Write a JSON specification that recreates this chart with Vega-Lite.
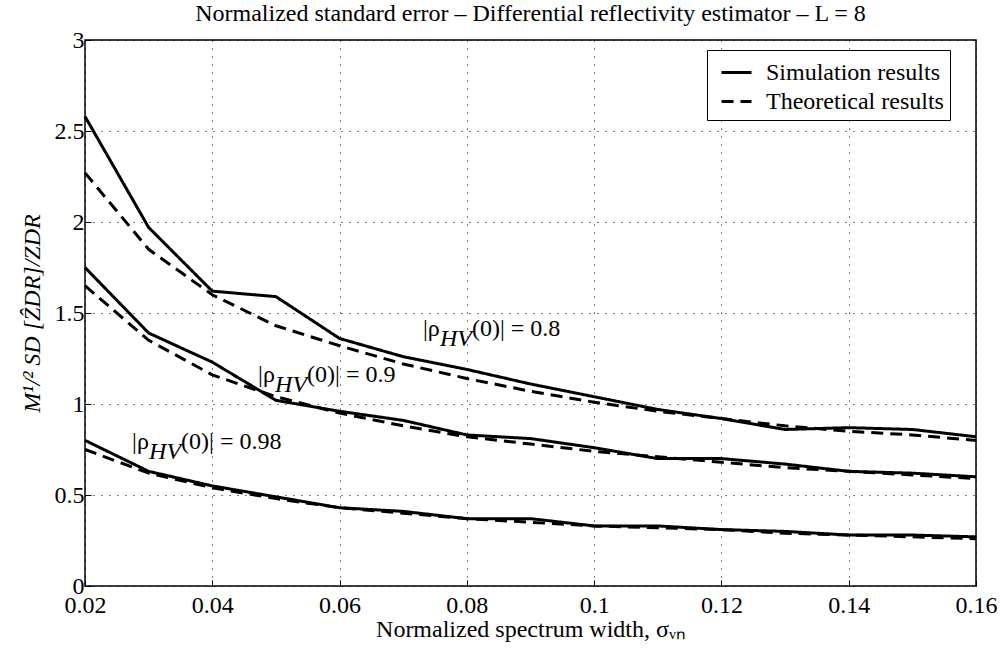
{
  "$schema": "https://vega.github.io/schema/vega-lite/v6.json",
  "width": 891,
  "height": 546,
  "autosize": {"type": "none"},
  "padding": {"left": 85, "top": 40, "right": 29, "bottom": 72},
  "background": "white",
  "config": {
    "font": "Liberation Serif",
    "view": {"stroke": "black", "strokeWidth": 1.5}
  },
  "title": {
    "text": "Normalized standard error – Differential reflectivity estimator – L = 8",
    "fontSize": 24,
    "fontWeight": "normal",
    "font": "Liberation Serif",
    "color": "black",
    "anchor": "middle",
    "frame": "group",
    "baseline": "bottom",
    "offset": 0,
    "dy": 22
  },
  "datasets": {
    "curves": [
      {"x": 0.02, "y": 2.58, "rho": "0.8", "type": "Simulation results"},
      {"x": 0.03, "y": 1.97, "rho": "0.8", "type": "Simulation results"},
      {"x": 0.04, "y": 1.62, "rho": "0.8", "type": "Simulation results"},
      {"x": 0.05, "y": 1.59, "rho": "0.8", "type": "Simulation results"},
      {"x": 0.06, "y": 1.36, "rho": "0.8", "type": "Simulation results"},
      {"x": 0.07, "y": 1.26, "rho": "0.8", "type": "Simulation results"},
      {"x": 0.08, "y": 1.19, "rho": "0.8", "type": "Simulation results"},
      {"x": 0.09, "y": 1.11, "rho": "0.8", "type": "Simulation results"},
      {"x": 0.10, "y": 1.04, "rho": "0.8", "type": "Simulation results"},
      {"x": 0.11, "y": 0.97, "rho": "0.8", "type": "Simulation results"},
      {"x": 0.12, "y": 0.92, "rho": "0.8", "type": "Simulation results"},
      {"x": 0.13, "y": 0.86, "rho": "0.8", "type": "Simulation results"},
      {"x": 0.14, "y": 0.87, "rho": "0.8", "type": "Simulation results"},
      {"x": 0.15, "y": 0.86, "rho": "0.8", "type": "Simulation results"},
      {"x": 0.16, "y": 0.82, "rho": "0.8", "type": "Simulation results"},
      {"x": 0.02, "y": 2.27, "rho": "0.8", "type": "Theoretical results"},
      {"x": 0.03, "y": 1.85, "rho": "0.8", "type": "Theoretical results"},
      {"x": 0.04, "y": 1.60, "rho": "0.8", "type": "Theoretical results"},
      {"x": 0.05, "y": 1.43, "rho": "0.8", "type": "Theoretical results"},
      {"x": 0.06, "y": 1.32, "rho": "0.8", "type": "Theoretical results"},
      {"x": 0.07, "y": 1.22, "rho": "0.8", "type": "Theoretical results"},
      {"x": 0.08, "y": 1.14, "rho": "0.8", "type": "Theoretical results"},
      {"x": 0.09, "y": 1.07, "rho": "0.8", "type": "Theoretical results"},
      {"x": 0.10, "y": 1.01, "rho": "0.8", "type": "Theoretical results"},
      {"x": 0.11, "y": 0.96, "rho": "0.8", "type": "Theoretical results"},
      {"x": 0.12, "y": 0.92, "rho": "0.8", "type": "Theoretical results"},
      {"x": 0.13, "y": 0.88, "rho": "0.8", "type": "Theoretical results"},
      {"x": 0.14, "y": 0.85, "rho": "0.8", "type": "Theoretical results"},
      {"x": 0.15, "y": 0.83, "rho": "0.8", "type": "Theoretical results"},
      {"x": 0.16, "y": 0.80, "rho": "0.8", "type": "Theoretical results"},
      {"x": 0.02, "y": 1.75, "rho": "0.9", "type": "Simulation results"},
      {"x": 0.03, "y": 1.39, "rho": "0.9", "type": "Simulation results"},
      {"x": 0.04, "y": 1.23, "rho": "0.9", "type": "Simulation results"},
      {"x": 0.05, "y": 1.02, "rho": "0.9", "type": "Simulation results"},
      {"x": 0.06, "y": 0.96, "rho": "0.9", "type": "Simulation results"},
      {"x": 0.07, "y": 0.91, "rho": "0.9", "type": "Simulation results"},
      {"x": 0.08, "y": 0.83, "rho": "0.9", "type": "Simulation results"},
      {"x": 0.09, "y": 0.81, "rho": "0.9", "type": "Simulation results"},
      {"x": 0.10, "y": 0.76, "rho": "0.9", "type": "Simulation results"},
      {"x": 0.11, "y": 0.70, "rho": "0.9", "type": "Simulation results"},
      {"x": 0.12, "y": 0.70, "rho": "0.9", "type": "Simulation results"},
      {"x": 0.13, "y": 0.67, "rho": "0.9", "type": "Simulation results"},
      {"x": 0.14, "y": 0.63, "rho": "0.9", "type": "Simulation results"},
      {"x": 0.15, "y": 0.62, "rho": "0.9", "type": "Simulation results"},
      {"x": 0.16, "y": 0.60, "rho": "0.9", "type": "Simulation results"},
      {"x": 0.02, "y": 1.65, "rho": "0.9", "type": "Theoretical results"},
      {"x": 0.03, "y": 1.35, "rho": "0.9", "type": "Theoretical results"},
      {"x": 0.04, "y": 1.16, "rho": "0.9", "type": "Theoretical results"},
      {"x": 0.05, "y": 1.04, "rho": "0.9", "type": "Theoretical results"},
      {"x": 0.06, "y": 0.95, "rho": "0.9", "type": "Theoretical results"},
      {"x": 0.07, "y": 0.88, "rho": "0.9", "type": "Theoretical results"},
      {"x": 0.08, "y": 0.82, "rho": "0.9", "type": "Theoretical results"},
      {"x": 0.09, "y": 0.78, "rho": "0.9", "type": "Theoretical results"},
      {"x": 0.10, "y": 0.74, "rho": "0.9", "type": "Theoretical results"},
      {"x": 0.11, "y": 0.71, "rho": "0.9", "type": "Theoretical results"},
      {"x": 0.12, "y": 0.68, "rho": "0.9", "type": "Theoretical results"},
      {"x": 0.13, "y": 0.65, "rho": "0.9", "type": "Theoretical results"},
      {"x": 0.14, "y": 0.63, "rho": "0.9", "type": "Theoretical results"},
      {"x": 0.15, "y": 0.61, "rho": "0.9", "type": "Theoretical results"},
      {"x": 0.16, "y": 0.59, "rho": "0.9", "type": "Theoretical results"},
      {"x": 0.02, "y": 0.80, "rho": "0.98", "type": "Simulation results"},
      {"x": 0.03, "y": 0.63, "rho": "0.98", "type": "Simulation results"},
      {"x": 0.04, "y": 0.55, "rho": "0.98", "type": "Simulation results"},
      {"x": 0.05, "y": 0.49, "rho": "0.98", "type": "Simulation results"},
      {"x": 0.06, "y": 0.43, "rho": "0.98", "type": "Simulation results"},
      {"x": 0.07, "y": 0.41, "rho": "0.98", "type": "Simulation results"},
      {"x": 0.08, "y": 0.37, "rho": "0.98", "type": "Simulation results"},
      {"x": 0.09, "y": 0.37, "rho": "0.98", "type": "Simulation results"},
      {"x": 0.10, "y": 0.33, "rho": "0.98", "type": "Simulation results"},
      {"x": 0.11, "y": 0.33, "rho": "0.98", "type": "Simulation results"},
      {"x": 0.12, "y": 0.31, "rho": "0.98", "type": "Simulation results"},
      {"x": 0.13, "y": 0.30, "rho": "0.98", "type": "Simulation results"},
      {"x": 0.14, "y": 0.28, "rho": "0.98", "type": "Simulation results"},
      {"x": 0.15, "y": 0.28, "rho": "0.98", "type": "Simulation results"},
      {"x": 0.16, "y": 0.27, "rho": "0.98", "type": "Simulation results"},
      {"x": 0.02, "y": 0.75, "rho": "0.98", "type": "Theoretical results"},
      {"x": 0.03, "y": 0.62, "rho": "0.98", "type": "Theoretical results"},
      {"x": 0.04, "y": 0.54, "rho": "0.98", "type": "Theoretical results"},
      {"x": 0.05, "y": 0.48, "rho": "0.98", "type": "Theoretical results"},
      {"x": 0.06, "y": 0.43, "rho": "0.98", "type": "Theoretical results"},
      {"x": 0.07, "y": 0.40, "rho": "0.98", "type": "Theoretical results"},
      {"x": 0.08, "y": 0.37, "rho": "0.98", "type": "Theoretical results"},
      {"x": 0.09, "y": 0.35, "rho": "0.98", "type": "Theoretical results"},
      {"x": 0.10, "y": 0.33, "rho": "0.98", "type": "Theoretical results"},
      {"x": 0.11, "y": 0.32, "rho": "0.98", "type": "Theoretical results"},
      {"x": 0.12, "y": 0.31, "rho": "0.98", "type": "Theoretical results"},
      {"x": 0.13, "y": 0.29, "rho": "0.98", "type": "Theoretical results"},
      {"x": 0.14, "y": 0.28, "rho": "0.98", "type": "Theoretical results"},
      {"x": 0.15, "y": 0.27, "rho": "0.98", "type": "Theoretical results"},
      {"x": 0.16, "y": 0.26, "rho": "0.98", "type": "Theoretical results"}
    ],
    "labels": [
      {"x": 0.0731, "y": 1.41, "pre": "|ρ", "sub": "HV", "post": "(0)| = 0.8"},
      {"x": 0.0472, "y": 1.16, "pre": "|ρ", "sub": "HV", "post": "(0)| = 0.9"},
      {"x": 0.0274, "y": 0.79, "pre": "|ρ", "sub": "HV", "post": "(0)| = 0.98"}
    ]
  },
  "layer": [
    {
      "data": {"name": "curves"},
      "mark": {"type": "line", "strokeWidth": 3, "color": "black"},
      "encoding": {
        "x": {
          "field": "x", "type": "quantitative",
          "scale": {"domain": [0.02, 0.16], "nice": false, "zero": false},
          "axis": {
            "values": [0.02, 0.04, 0.06, 0.08, 0.1, 0.12, 0.14, 0.16],
            "format": "~g",
            "title": "Normalized spectrum width, σᵥₙ",
            "titleFont": "Liberation Serif", "titleFontSize": 24, "titleFontWeight": "normal", "titleColor": "black",
            "titlePadding": 0,
            "labelFont": "Liberation Serif", "labelFontSize": 24, "labelColor": "black", "labelPadding": 13,
            "labelFlush": false,
            "grid": true, "gridDash": [1, 7], "gridColor": "black", "gridOpacity": 1, "gridWidth": 1,
            "domain": false, "ticks": true, "tickSize": -6, "tickColor": "black", "tickWidth": 1
          }
        },
        "y": {
          "field": "y", "type": "quantitative",
          "scale": {"domain": [0, 3], "nice": false},
          "axis": {
            "values": [0, 0.5, 1, 1.5, 2, 2.5, 3],
            "format": "~g",
            "title": "M¹/² SD [ẐDR]/ZDR",
            "titleFont": "Liberation Serif", "titleFontSize": 24, "titleFontWeight": "normal", "titleFontStyle": "italic", "titleColor": "black",
            "titlePadding": 10,
            "labelFont": "Liberation Serif", "labelFontSize": 24, "labelColor": "black", "labelPadding": 7,
            "labelFlush": false,
            "grid": true, "gridDash": [1, 7], "gridColor": "black", "gridOpacity": 1, "gridWidth": 1,
            "domain": false, "ticks": true, "tickSize": -6, "tickColor": "black", "tickWidth": 1
          }
        },
        "detail": {"field": "rho", "type": "nominal"},
        "strokeDash": {
          "field": "type", "type": "nominal",
          "scale": {"domain": ["Simulation results", "Theoretical results"], "range": [[1, 0], [12, 7]]},
          "legend": {
            "orient": "none", "legendX": 622, "legendY": 10,
            "title": null,
            "labelFont": "Liberation Serif", "labelFontSize": 24, "labelColor": "black", "labelOffset": 13,
            "labelLimit": 400,
            "symbolType": "stroke", "symbolStrokeWidth": 3, "symbolSize": 900, "symbolStrokeColor": "black",
            "symbolOffset": 7,
            "strokeColor": "black", "fillColor": "white", "padding": 6, "rowPadding": 0
          }
        }
      }
    },
    {
      "data": {"name": "labels"},
      "mark": {"type": "text", "align": "left", "baseline": "middle", "fontSize": 24, "font": "Liberation Serif", "color": "black"},
      "encoding": {
        "x": {"field": "x", "type": "quantitative"},
        "y": {"field": "y", "type": "quantitative"},
        "text": {"field": "pre"}
      }
    },
    {
      "data": {"name": "labels"},
      "mark": {"type": "text", "align": "left", "baseline": "middle", "fontSize": 24, "font": "Liberation Serif", "fontStyle": "italic", "color": "black", "dx": 17, "dy": 10},
      "encoding": {
        "x": {"field": "x", "type": "quantitative"},
        "y": {"field": "y", "type": "quantitative"},
        "text": {"field": "sub"}
      }
    },
    {
      "data": {"name": "labels"},
      "mark": {"type": "text", "align": "left", "baseline": "middle", "fontSize": 24, "font": "Liberation Serif", "color": "black", "dx": 49},
      "encoding": {
        "x": {"field": "x", "type": "quantitative"},
        "y": {"field": "y", "type": "quantitative"},
        "text": {"field": "post"}
      }
    }
  ]
}
